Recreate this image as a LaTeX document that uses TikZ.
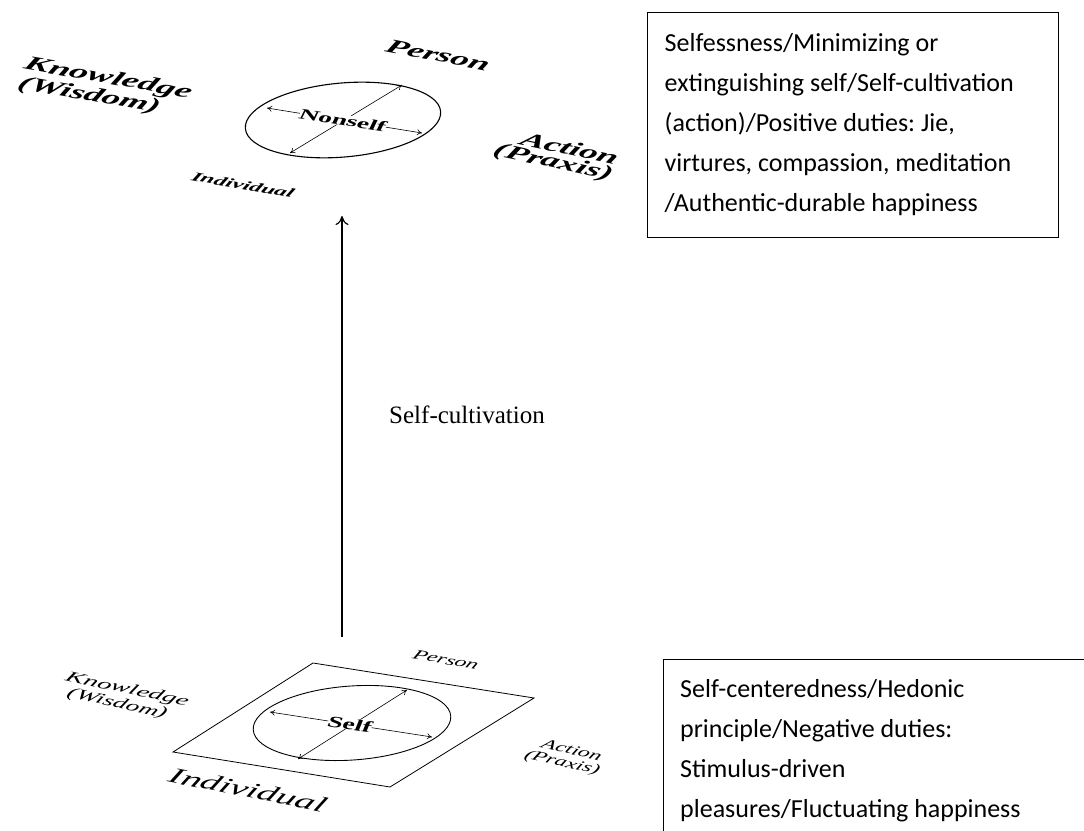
\documentclass[tikz,border=0pt]{standalone}
\usepackage{fontspec}
\setmainfont{Liberation Serif}
\newfontfamily\boxfont{Carlito}
\usetikzlibrary{arrows.meta}
% name, x, y, rotation, xscale, font size, text
\newcommand\plabel[7]{%
  \begin{scope}[shift={(#2,#3)}]
    \node[lbl, transform shape, rotate=#4, xslant=0.3, xscale=#5] (#1) at (0,0)
      {\fontsize{#6}{#6}\selectfont #7};
  \end{scope}}
\begin{document}
\frenchspacing
\begin{tikzpicture}[x=1pt,y=-1pt,
  lbl/.style={inner sep=0pt},
  ell/.style={line width=1.1pt},
  dbl/.style={{To[length=5pt,width=6pt]}-{To[length=5pt,width=6pt]}, line width=0.6pt},
  frame/.style={line width=0.8pt},
  boxframe/.style={draw, line width=1pt, inner sep=0pt},
  boxtext/.style={font=\boxfont\fontsize{26}{40}\selectfont, align=left, inner sep=0pt},
]
\useasboundingbox (0,0) rectangle (1084,830);
\clip (0,0) rectangle (1084,830);
\fill[white] (0,0) rectangle (1084,830);

% ---------- top diagram ----------
\coordinate (tc) at (343,120);
\draw[ell, rotate around={5:(tc)}] (tc) ellipse [x radius=98, y radius=37];
\coordinate (ta1) at (267,108);
\coordinate (ta2) at (422,133);
\coordinate (tb1) at (402,85);
\coordinate (tb2) at (290,153);
\draw[dbl] (ta1) -- (ta2);
\draw[dbl] (tb1) -- (tb2);
\begin{scope}[shift={(343,120)}]
  \node[lbl, fill=white, transform shape, rotate=-9, xslant=0.3, xscale=1.8] (nonself) at (0,0)
    {\fontsize{15}{15}\selectfont\bfseries Nonself};
\end{scope}

\plabel{tk}{108}{79}{-10}{1.85}{20}{\bfseries\itshape Knowledge}
\plabel{tw}{89}{96}{-10}{1.8}{20}{\bfseries\itshape (Wisdom)}
\plabel{tp}{438}{55}{-11}{1.8}{20}{\bfseries\itshape Person}
\plabel{ta}{570}{148}{-12}{1.8}{20}{\bfseries\itshape Action}
\plabel{tx}{553}{163}{-12}{1.8}{20}{\bfseries\itshape (Praxis)}
\plabel{ti}{243}{185}{-10}{1.85}{13}{\bfseries\itshape Individual}

% ---------- main arrow ----------
\coordinate (as) at (342,637);
\coordinate (ae) at (342,216);
\draw[-{To[length=9pt,width=13pt]}, line width=1.2pt] (as) -- (ae);
\node[lbl] (sc) at (467,415) {\fontsize{25}{25}\selectfont Self-cultivation};

% ---------- bottom diagram ----------
\coordinate (p1) at (313,663);
\coordinate (p2) at (534,698);
\coordinate (p3) at (390,787);
\coordinate (p4) at (173,752);
\draw[frame] (p1) -- (p2) -- (p3) -- (p4) -- cycle;
\coordinate (bc) at (352,723);
\draw[ell, line width=0.9pt, rotate around={4:(bc)}] (bc) ellipse [x radius=99, y radius=37];
\coordinate (ba1) at (270,712);
\coordinate (ba2) at (432,737);
\coordinate (bb1) at (407,690);
\coordinate (bb2) at (298,759);
\draw[dbl] (ba1) -- (ba2);
\draw[dbl] (bb1) -- (bb2);
\begin{scope}[shift={(350,724)}]
  \node[lbl, fill=white, transform shape, rotate=-8, xslant=0.25, xscale=1.7] (self) at (0,0)
    {\fontsize{16}{16}\selectfont\bfseries Self};
\end{scope}

\plabel{bk}{127}{690}{-12}{1.85}{15}{\itshape Knowledge}
\plabel{bw}{117}{704}{-12}{1.75}{15}{\itshape (Wisdom)}
\plabel{bp}{446}{660}{-10}{1.65}{14}{\itshape Person}
\plabel{ba}{572}{750}{-12}{1.65}{14}{\itshape Action}
\plabel{bx}{562}{763}{-12}{1.65}{14}{\itshape (Praxis)}
\plabel{bi}{248}{790}{-11}{1.75}{22}{\itshape Individual}

% ---------- text boxes ----------
\node[boxframe, minimum width=411, minimum height=225] (tbox) at (852.5,124.5) {};
\node[boxtext, anchor=west] (ttext) at ([xshift=18pt]tbox.west)
  {Selfessness/Minimizing or\\extinguishing self/Self-cultivation\\(action)/Positive duties: Jie,\\virtures, compassion, meditation\\/Authentic-durable happiness};

\node[boxframe, anchor=north west, minimum width=500, minimum height=250] (bbox) at (663,659) {};
\node[boxtext, anchor=north west] (btext) at (680,679)
  {Self-centeredness/Hedonic\\principle/Negative duties:\\Stimulus-driven\\pleasures/Fluctuating happiness};
\end{tikzpicture}
\end{document}
